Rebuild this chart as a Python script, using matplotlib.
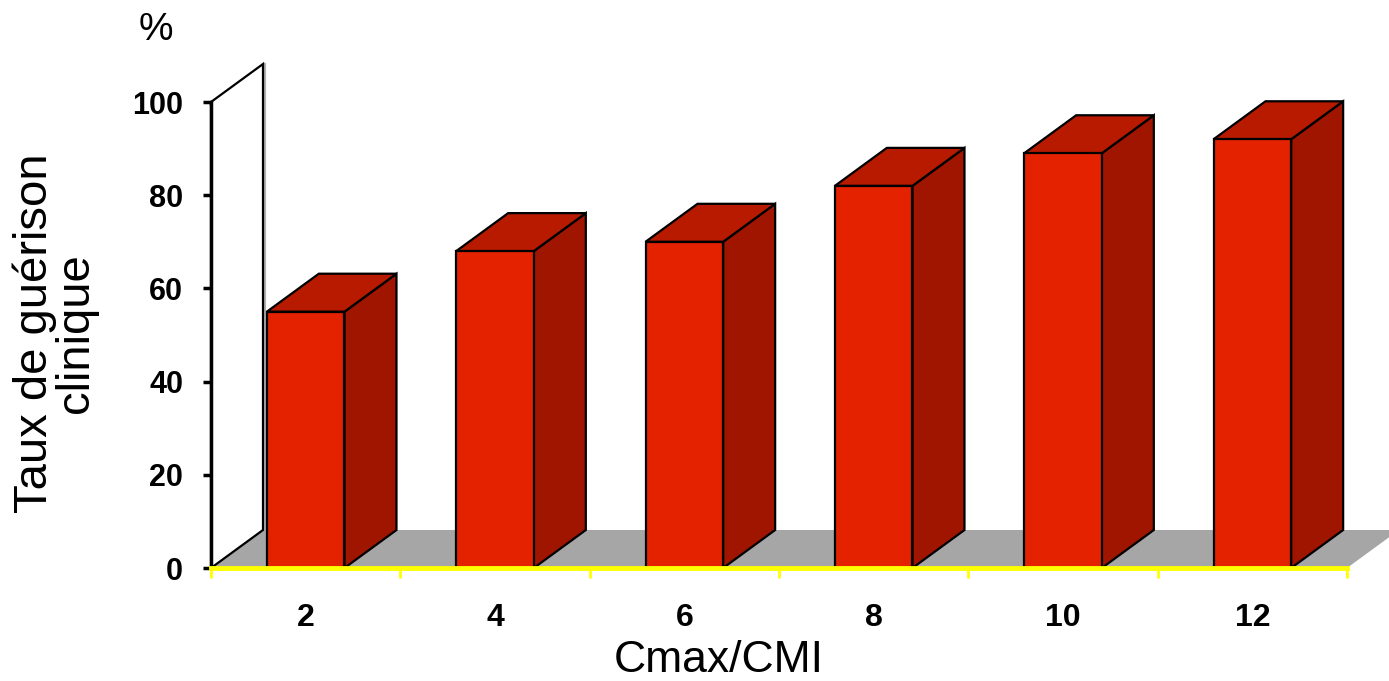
import matplotlib
matplotlib.use("Agg")
import matplotlib.pyplot as plt
from matplotlib.patches import Polygon

plt.rcParams['font.family'] = ['Liberation Sans', 'DejaVu Sans']

categories = ["2", "4", "6", "8", "10", "12"]
values = [55, 68, 70, 82, 89, 92]
yticks = [0, 20, 40, 60, 80, 100]

FRONT = "#E52200"
SIDE = "#A01500"
TOP = "#B81A00"
FLOOR = "#A6A6A6"
YELLOW = "#FFFF00"

W, H = 1389, 681
fig = plt.figure(figsize=(W / 100, H / 100), dpi=100)
ax = fig.add_axes([211 / W, 1 - 568 / H, 1136 / W, 466 / H])
n = len(categories)
ax.set_xlim(0, n)
ax.set_ylim(0, 100)

# depth offsets in data units
DX = 52 / (1136 / n)
DY = 38 / 4.66
BAR_W = 0.41

# floor
ax.add_patch(Polygon([(0, 0), (DX, DY), (n + DX + 1, DY), (n + 1, 0)], closed=True,
                     facecolor=FLOOR, edgecolor='none', clip_on=False, zorder=1))
ax.add_patch(Polygon([(n, 0), (n + DX, DY), (n + DX + 1, DY), (n + 1, 0)], closed=True,
                     facecolor='white', edgecolor='none', clip_on=False, zorder=1.1))
# back (left) wall
ax.add_patch(Polygon([(0, 0), (0, 100), (DX, 100 + DY), (DX, DY)], closed=True,
                     facecolor='white', edgecolor='black', linewidth=1.6,
                     clip_on=False, zorder=1.5))
ax.plot([0, DX], [100 - 0.6, 100 + DY - 0.6], color='#9A9A9A', lw=2.0,
        clip_on=False, zorder=1.4)
ax.plot([DX + 0.012, DX + 0.012], [DY, 100 + DY], color='#B0B0B0', lw=1.5,
        clip_on=False, zorder=1.4)

# 3D bars
for i, v in enumerate(values):
    c = i + 0.5
    x0, x1 = c - BAR_W / 2, c + BAR_W / 2
    kw = dict(closed=True, edgecolor='black', linewidth=1.6, clip_on=False,
              joinstyle='miter')
    ax.add_patch(Polygon([(x1, 0), (x1 + DX, DY), (x1 + DX, v + DY), (x1, v)],
                         facecolor=SIDE, zorder=3, **kw))
    ax.add_patch(Polygon([(x0, v), (x0 + DX, v + DY), (x1 + DX, v + DY), (x1, v)],
                         facecolor=TOP, zorder=3, **kw))
    ax.add_patch(Polygon([(x0, 0), (x0, v), (x1, v), (x1, 0)],
                         facecolor=FRONT, zorder=4, **kw))

for s in ['top', 'right']:
    ax.spines[s].set_visible(False)
ax.spines['left'].set_color('black')
ax.spines['left'].set_linewidth(2.5)
ax.spines['left'].set_zorder(5)
ax.spines['bottom'].set_color(YELLOW)
ax.spines['bottom'].set_linewidth(3.5)
ax.spines['bottom'].set_zorder(5)
ax.set_facecolor('none')

ax.set_yticks(yticks)
ax.set_yticklabels([str(t) for t in yticks], fontsize=22, fontweight='bold')
ax.tick_params(axis='y', direction='out', length=6, width=2.5, color='black', pad=14)

ax.set_xticks(range(n + 1))
ax.set_xticklabels([])
ax.tick_params(axis='x', which='major', direction='out', length=7, width=2, color=YELLOW)
ax.set_xticks([i + 0.5 for i in range(n)], minor=True)
ax.set_xticklabels(categories, minor=True, fontsize=23, fontweight='bold')
ax.tick_params(axis='x', which='minor', length=0, pad=25)

fig.text(719 / W, 1 - 660 / H, "Cmax/CMI", ha='center', va='center', fontsize=32)
fig.text(55 / W, 1 - 333 / H, "Taux de guérison\nclinique", rotation=90,
         ha='center', va='center', multialignment='center', fontsize=34, linespacing=0.9)
fig.text(156 / W, 1 - 30 / H, "%", ha='center', va='center', fontsize=28)

fig.savefig("out.png", dpi=100)
